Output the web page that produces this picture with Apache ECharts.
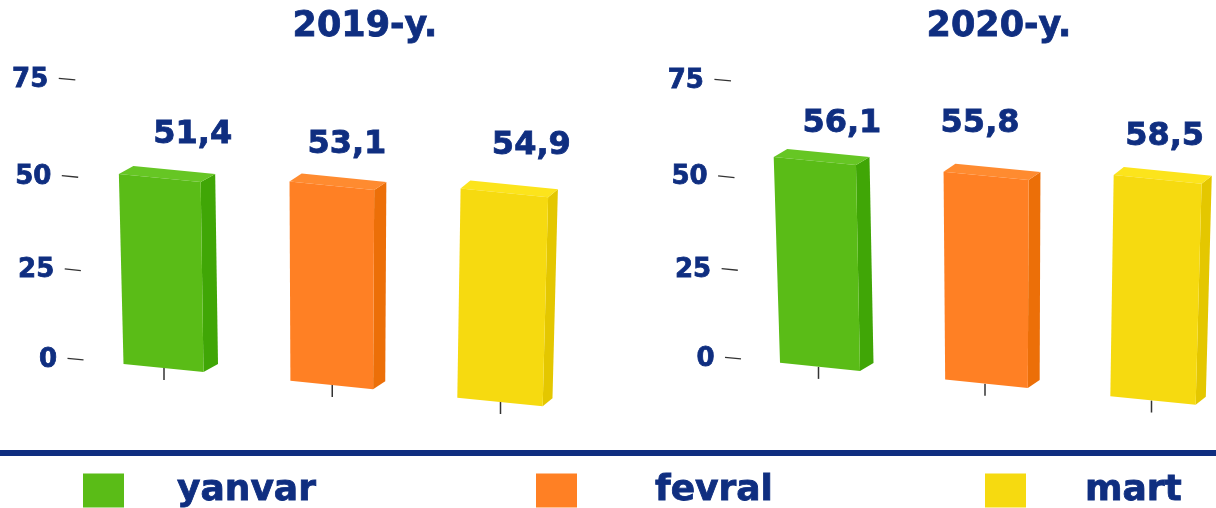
<!DOCTYPE html>
<html><head><meta charset="utf-8">
<style>html,body{margin:0;padding:0;background:#fff}#c{width:1216px;height:508px}</style>
<script src="https://cdn.jsdelivr.net/npm/echarts@6/dist/echarts.min.js"></script>
</head><body><div id="c"></div>
<script>
const months = ['yanvar','fevral','mart'];
const years = ['2019-y.','2020-y.'];
const values2019 = [51.4,53.1,54.9];
const values2020 = [56.1,55.8,58.5];
const yTicks = [0,25,50,75];

const NAVY = '#0f2e80';
const FONT = 'DejaVu Sans';
const BOLDER = 0.8;
const palette = [
  {front:'#5abc17',side:'#40a606',top:'#66c624'},
  {front:'#ff8024',side:'#ec6f08',top:'#ff8b30'},
  {front:'#f6da10',side:'#e4c700',top:'#fce41c'}
];
// perspective of each panel: first and last category sit on the grid edges
const panels = [
  {left:163.5,width:336.5,top:78,height:280,axisX:79.5,tickDx:0.5,shearX:64.5,leanZero:327,leanRate:0.00012,depthA:14.5,depthRate:0.014,labelDx:[33,15,27],labelDy:[-39,-37,-43]},
  {left:820,width:333,top:80,height:278,axisX:737,tickDx:-1.5,shearX:732,leanZero:1001,leanRate:0.000138,depthA:13.5,depthRate:0.01,labelDx:[27,-6,7],labelDy:[-33,-48,-38]}
];
function projector(p){
  const base = p.top+p.height, k = 0.101;
  return (x,y)=>[x+p.leanRate*(p.leanZero-x)*(y-base), y+k*(x-p.shearX)];
}
const fmt = v => String(v).replace('.',',');

function barRenderer(panelIdx,colorIdx){
  const p = panels[panelIdx], P = projector(p), c = palette[colorIdx];
  return function(params,api){
    const rawTop = api.coord([api.value(0),api.value(1)]);
    const base = api.coord([api.value(0),0]);
    const cx = base[0], u = (cx-p.left)/p.width;
    const topY = base[1]-(base[1]-rawTop[1])*(0.99+0.03*u);
    const w = 80+0.016*(cx-p.left);
    const dx = p.depthA-p.depthRate*(cx-p.left), dy = -8;
    const tl=P(cx-w/2,topY), tr=P(cx+w/2,topY), br=P(cx+w/2,base[1]), bl=P(cx-w/2,base[1]);
    const off = q=>[q[0]+dx,q[1]+dy];
    const t0=P(cx,base[1]), t1=P(cx,base[1]+12);
    const tm=P(cx,topY);
    return {type:'group',children:[
      {type:'line',shape:{x1:t0[0]+p.tickDx,y1:t0[1],x2:t0[0]+p.tickDx,y2:t1[1]},style:{stroke:'#333',lineWidth:1.5}},
      {type:'polygon',shape:{points:[tr,br,off(br),off(tr)]},style:{fill:c.side}},
      {type:'polygon',shape:{points:[tl,tr,off(tr),off(tl)]},style:{fill:c.top}},
      {type:'polygon',shape:{points:[tl,tr,br,bl]},style:{fill:c.front}},
      {type:'text',x:tm[0]+p.labelDx[colorIdx],y:tl[1]+p.labelDy[colorIdx],
        style:{text:fmt(api.value(1)),fill:NAVY,stroke:NAVY,lineWidth:BOLDER,font:'bold 32px "'+FONT+'"',align:'center',verticalAlign:'middle',textAlign:'center',textVerticalAlign:'middle'}}
    ]};
  };
}
function tickRenderer(panelIdx){
  const p = panels[panelIdx], P = projector(p);
  return function(params,api){
    const v = api.value(0);
    const y = api.coord([0,v])[1] + 4*v*(75-v)/1250;
    const a = P(p.axisX-12,y), b = P(p.axisX+4,y);
    return {type:'group',children:[
      {type:'line',shape:{x1:a[0],y1:a[1],x2:b[0],y2:b[1]},style:{stroke:'#333',lineWidth:1.3}},
      {type:'text',x:a[0]-10.5,y:a[1]+1.5,style:{text:String(v),fill:NAVY,stroke:NAVY,lineWidth:BOLDER,font:'bold 26px "'+FONT+'"',align:'right',verticalAlign:'middle',textAlign:'right',textVerticalAlign:'middle'}}
    ]};
  };
}
const series = [];
[values2019,values2020].forEach((vals,pi)=>{
  series.push({type:'custom',xAxisIndex:pi,yAxisIndex:pi,silent:true,renderItem:tickRenderer(pi),
    data:yTicks.map(v=>[v]),encode:{y:0},clip:false});
  vals.forEach((v,i)=>series.push({type:'custom',name:months[i],xAxisIndex:pi,yAxisIndex:pi,
    itemStyle:{color:palette[i].front},renderItem:barRenderer(pi,i),data:[[i,v]],encode:{x:0,y:1},clip:false}));
});
const legendText = pad => ({color:NAVY,fontFamily:FONT,fontWeight:'bold',fontSize:36,textBorderColor:NAVY,textBorderWidth:BOLDER,padding:[0,0,0,pad]});
const legendBase = {top:472,padding:0,itemWidth:41,itemHeight:34,icon:'rect',selectedMode:false};
const titleStyle = {color:NAVY,fontFamily:FONT,fontWeight:'bold',fontSize:35,textBorderColor:NAVY,textBorderWidth:BOLDER};
const chart = echarts.init(document.getElementById('c'),null,{renderer:'canvas'});
chart.setOption({
  animation:false,backgroundColor:'#fff',
  title:[
    {text:years[0],left:360,top:4,textAlign:'center',textStyle:titleStyle},
    {text:years[1],left:994,top:4,textAlign:'center',textStyle:titleStyle}
  ],
  grid:panels.map(p=>({left:p.left,width:p.width,top:p.top,height:p.height})),
  xAxis:panels.map((p,i)=>({type:'category',boundaryGap:false,gridIndex:i,data:months,axisLine:{show:false},axisTick:{show:false},axisLabel:{show:false}})),
  yAxis:panels.map((p,i)=>({type:'value',gridIndex:i,min:0,max:75,interval:25,axisLine:{show:false},axisTick:{show:false},axisLabel:{show:false},splitLine:{show:false}})),
  legend:[
    {...legendBase,data:[months[0]],left:83,textStyle:legendText(48)},
    {...legendBase,data:[months[1]],left:536,textStyle:legendText(73)},
    {...legendBase,data:[months[2]],left:985,textStyle:legendText(54)}
  ],
  graphic:[{type:'rect',left:0,top:450,shape:{width:1216,height:6},style:{fill:NAVY}}],
  series
});
</script></body></html>
